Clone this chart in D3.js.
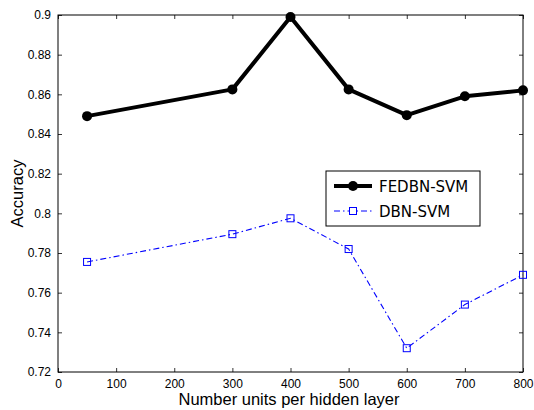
<!DOCTYPE html>
<html>
<head>
<meta charset="utf-8">
<script src="https://cdn.jsdelivr.net/npm/d3@7"></script>
<style>
  body { margin: 0; background: #fff; }
  svg { font-family: 'Liberation Sans', Arial, sans-serif; }
</style>
</head>
<body>
<svg width="534" height="410"></svg>
<script>
'use strict';

const units = [50, 300, 400, 500, 600, 700, 800]
const fedbnSvm = [0.849, 0.8625, 0.899, 0.8625, 0.8495, 0.859, 0.862]
const dbnSvm = [0.7755, 0.7895, 0.7975, 0.782, 0.732, 0.754, 0.769]
const xTicks = [0, 100, 200, 300, 400, 500, 600, 700, 800]
const yTicks = [0.72, 0.74, 0.76, 0.78, 0.8, 0.82, 0.84, 0.86, 0.88, 0.9]

const svg = d3.select('svg')
const margin = {top: 15, right: 11, bottom: 38, left: 58}
const width = 534 - margin.left - margin.right
const height = 410 - margin.top - margin.bottom
const g = svg.append('g').attr('transform', 'translate(' + margin.left + ',' + margin.top + ')')

const x = d3.scaleLinear().domain([0, 800]).range([0, width])
const y = d3.scaleLinear().domain([0.72, 0.9]).range([height, 0])

const fmt = (d) => String(+d.toFixed(2))

function styleAxis(sel, showLabels) {
  sel.select('.domain').remove()
  sel.selectAll('.tick line').attr('stroke', '#000').attr('stroke-width', 0.8)
  sel.selectAll('.tick text').attr('fill', '#000').style('font-size', '12px')
  if (!showLabels) sel.selectAll('.tick text').remove()
}

g.append('g').attr('transform', 'translate(0,' + height + ')')
  .call(d3.axisBottom(x).tickValues(xTicks).tickSize(-4).tickPadding(7))
  .call((s) => styleAxis(s, true))
g.append('g')
  .call(d3.axisTop(x).tickValues(xTicks).tickSize(-4))
  .call((s) => styleAxis(s, false))
g.append('g')
  .call(d3.axisLeft(y).tickValues(yTicks).tickSize(-4).tickPadding(7).tickFormat(fmt))
  .call((s) => styleAxis(s, true))
g.append('g').attr('transform', 'translate(' + width + ',0)')
  .call(d3.axisRight(y).tickValues(yTicks).tickSize(-4))
  .call((s) => styleAxis(s, false))

g.append('rect')
  .attr('width', width).attr('height', height)
  .attr('fill', 'none').attr('stroke', '#000').attr('stroke-width', 1)

const line = d3.line().x((d, i) => x(units[i])).y((d) => y(d))

g.append('path').attr('d', line(fedbnSvm))
  .attr('fill', 'none').attr('stroke', '#000').attr('stroke-width', 4).attr('stroke-linejoin', 'round')
g.selectAll('circle.fed').data(fedbnSvm).enter().append('circle').classed('fed', true)
  .attr('cx', (d, i) => x(units[i])).attr('cy', (d) => y(d)).attr('r', 5).attr('fill', '#000')

g.append('path').attr('d', line(dbnSvm))
  .attr('fill', 'none').attr('stroke', '#0000ff').attr('stroke-width', 1.1)
  .attr('stroke-dasharray', '6,3,1.5,3')
g.selectAll('rect.dbn').data(dbnSvm).enter().append('rect').classed('dbn', true)
  .attr('x', (d, i) => x(units[i]) - 3.5).attr('y', (d) => y(d) - 3.5)
  .attr('width', 7).attr('height', 7)
  .attr('fill', 'none').attr('stroke', '#0000ff').attr('stroke-width', 1)

// legend
const lg = svg.append('g').attr('transform', 'translate(326,171)')
lg.append('rect').attr('width', 154).attr('height', 55)
  .attr('fill', '#fff').attr('stroke', '#000').attr('stroke-width', 1)
lg.append('line').attr('x1', 8).attr('x2', 46).attr('y1', 15).attr('y2', 15)
  .attr('stroke', '#000').attr('stroke-width', 4)
lg.append('circle').attr('cx', 27).attr('cy', 15).attr('r', 5).attr('fill', '#000')
lg.append('text').attr('x', 53).attr('y', 20.5).text('FEDBN-SVM')
  .style('font-size', '15px').style('font-family', 'DejaVu Sans')
lg.append('line').attr('x1', 8).attr('x2', 46).attr('y1', 40).attr('y2', 40)
  .attr('stroke', '#0000ff').attr('stroke-width', 1).attr('stroke-dasharray', '6,3,1.5,3')
lg.append('rect').attr('x', 23.5).attr('y', 36.5).attr('width', 7).attr('height', 7)
  .attr('fill', '#fff').attr('stroke', '#0000ff')
lg.append('text').attr('x', 53).attr('y', 45.5).text('DBN-SVM')
  .style('font-size', '15px').style('font-family', 'DejaVu Sans')

svg.append('text')
  .attr('x', 289).attr('y', 405)
  .attr('text-anchor', 'middle').style('font-size', '16.5px')
  .text('Number units per hidden layer')
svg.append('text')
  .attr('transform', 'translate(23,' + (margin.top + height / 2) + ') rotate(-90)')
  .attr('text-anchor', 'middle').style('font-size', '16.5px')
  .text('Accuracy')
</script>
</body>
</html>
